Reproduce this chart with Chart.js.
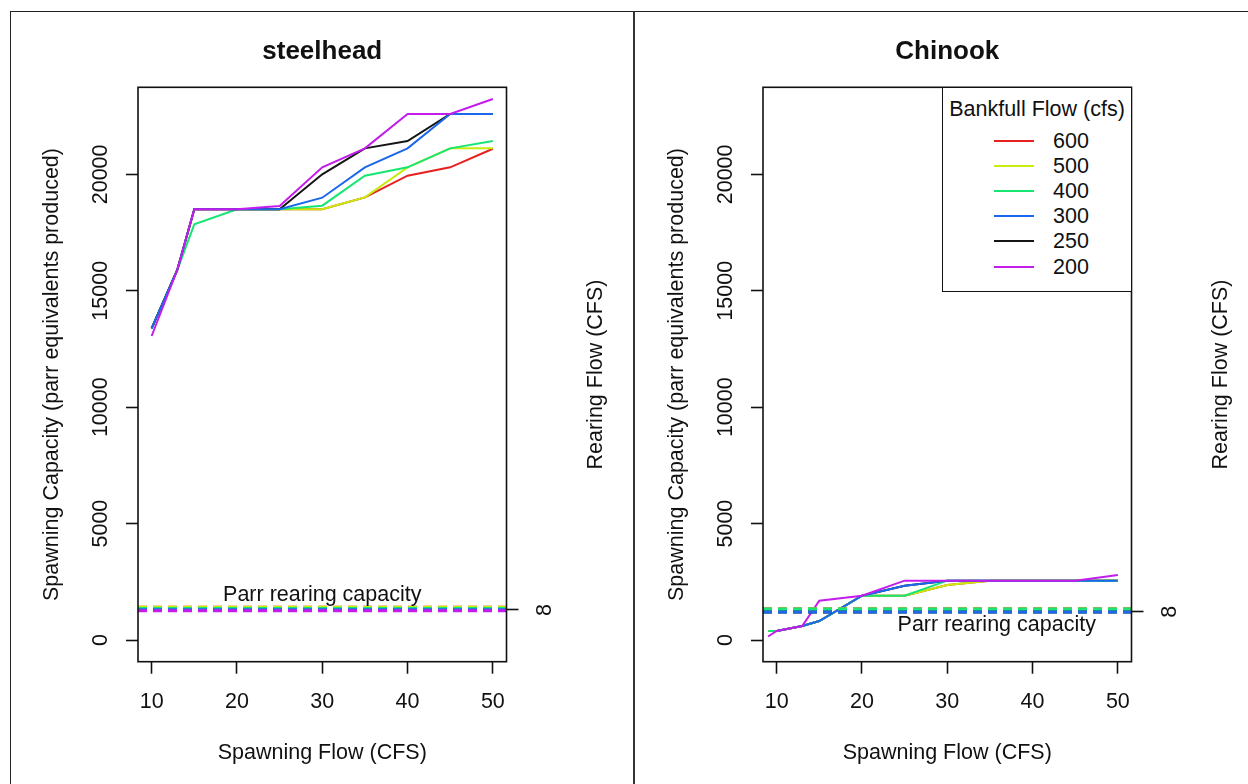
<!DOCTYPE html>
<html>
<head>
<meta charset="utf-8">
<title>Spawning capacity vs spawning flow</title>
<script src="https://cdn.jsdelivr.net/npm/chart.js@4.4.1/dist/chart.umd.min.js"></script>
<style>
  html, body { margin: 0; padding: 0; background: #fff; }
  body { width: 1248px; height: 784px; position: relative; overflow: hidden;
         font-family: "Liberation Sans", Arial, sans-serif; color: #111; }
  .frame { position: absolute; left: 10px; top: 11px; width: 1300px; height: 800px;
           border-top: 1.5px solid #222; border-left: 1.5px solid #222; }
  .divider { position: absolute; left: 633px; top: 11px; width: 2px; height: 800px; background: #333; }
  .panel { position: absolute; top: 0; }
  .legend { position: absolute; left: 942px; top: 87px; width: 190px; height: 205px; box-sizing: border-box;
            border: 1.6px solid #111; background: #fff; font-size: 21.5px; }
  .legend .ttl { position: absolute; left: 0; width: 100%; top: 8px; text-align: center; line-height: 26px; }
  .legend .row { position: absolute; left: 0; width: 100%; height: 26px; }
  .legend .sw { position: absolute; left: 51px; top: 12px; width: 40px; height: 2px; }
  .legend .lbl { position: absolute; left: 110px; top: 0; line-height: 26px; }
</style>
</head>
<body>
<div class="frame"></div>
<div class="divider"></div>
<canvas id="steelhead" class="panel" width="623" height="784" style="left:0"></canvas>
<canvas id="chinook" class="panel" width="623" height="784" style="left:625px"></canvas>
<div id="legend" class="legend"></div>

<script>
// spawning flow (cfs) sampled for each species
const steelheadFlow = [10, 13, 15, 20, 25, 30, 35, 40, 45, 50];
const chinookFlow = [9, 10, 13, 15, 20, 25, 30, 35, 40, 45, 50];

// bankfull flow classes (cfs), in legend order
const bankfullFlows = ['600', '500', '400', '300', '250', '200'];
const flowColors = ['#e8201e', '#c8ec0a', '#18e672', '#1c68ec', '#151515', '#c41cec'];

// steelhead spawning capacity (parr equivalents produced)
const steelhead600 = [13389, 15893, 18500, 18500, 18500, 18500, 19013, 19944, 20303, 21100];
const steelhead500 = [13389, 15893, 18500, 18500, 18500, 18500, 19013, 20303, 21119, 21119];
const steelhead400 = [13389, 15893, 17856, 18500, 18500, 18656, 19944, 20303, 21119, 21434];
const steelhead300 = [13389, 15893, 18500, 18500, 18500, 18999, 20303, 21119, 22594, 22594];
const steelhead250 = [13389, 15893, 18500, 18500, 18500, 20004, 21119, 21434, 22594, 22594];
const steelhead200 = [13058, 15893, 18500, 18500, 18643, 20303, 21119, 22594, 22594, 23239];

// Chinook spawning capacity (parr equivalents produced)
const chinook600 = [390, 390, 601, 816, 1904, 1904, 2362, 2549, 2549, 2549, 2549];
const chinook500 = [390, 390, 601, 816, 1904, 1904, 2362, 2549, 2549, 2549, 2549];
const chinook400 = [390, 390, 601, 816, 1904, 1904, 2549, 2549, 2549, 2549, 2549];
const chinook300 = [null, 390, 601, 816, 1904, 2334, 2549, 2549, 2549, 2549, 2549];
const chinook250 = [null, 390, 601, 816, 1904, 2334, 2549, 2549, 2549, 2549, 2549];
const chinook200 = [150, 390, 601, 1689, 1904, 2549, 2549, 2549, 2549, 2549, 2792];

// parr rearing capacity for each bankfull flow
const steelheadRearing = [1409, 1409, 1353, 1302, 1302, 1254];
const chinookRearing = [1330, 1330, 1330, 1200, 1200, 1330];

// axes
const flowRange = [8.4, 51.6];
const capacityRange = [-932, 23741];
const flowTicks = [10, 20, 30, 40, 50];
const capacityTicks = [0, 5000, 10000, 15000, 20000];
const rearTickLabel = '8';
const steelheadRearTick = 1289;
const chinookRearTick = 1216;

const INK = '#111';
const FAMILY = '"Liberation Sans", Arial, sans-serif';
const FONT_SIZE = 21.5;
const W = 623, H = 784;
const PLOT_LEFT = 138, PLOT_RIGHT = 506.5, PLOT_TOP = 87.3, PLOT_BOTTOM = 661.7;
const TICK_LEN = 12;

Chart.defaults.font.family = FAMILY;
Chart.defaults.color = INK;

// tick label widths, used to place the rotated labels
const meas = document.createElement('canvas').getContext('2d');
meas.font = FONT_SIZE + 'px ' + FAMILY;
const wideY = Math.max(...capacityTicks.map(v => meas.measureText(String(v)).width));
const wideR = meas.measureText(rearTickLabel).width;
const yPad = (PLOT_LEFT - TICK_LEN - 101) - wideY / 2;
const rPad = (545.5 - PLOT_RIGHT - TICK_LEN) - wideR / 2;

// plot box, right-axis title and the "Parr rearing capacity" note
const panelPlugin = {
  id: 'panelNotes',
  afterDatasetsDraw(chart, args, opts) {
    const {ctx, chartArea: a, scales} = chart;
    ctx.save();
    ctx.strokeStyle = INK;
    ctx.lineWidth = 1.6;
    ctx.strokeRect(a.left, a.top, a.right - a.left, a.bottom - a.top);
    ctx.fillStyle = INK;
    ctx.font = FONT_SIZE + 'px ' + FAMILY;
    ctx.textAlign = 'center';
    ctx.textBaseline = 'middle';
    ctx.fillText(opts.note, scales.x.getPixelForValue(opts.noteAt[0]), scales.y.getPixelForValue(opts.noteAt[1]));
    ctx.translate(596.5, (a.top + a.bottom) / 2);
    ctx.rotate(-Math.PI / 2);
    ctx.fillText(opts.rightTitle, 0, 0);
    ctx.restore();
  }
};

function buildChart(id, cfg) {
  const datasets = [];
  bankfullFlows.forEach((flow, i) => {
    datasets.push({
      label: flow + ' rearing',
      data: flowRange.map(x => ({x, y: cfg.rearing[i]})),
      borderColor: flowColors[i],
      borderWidth: 3,
      borderDash: [9, 6],
      pointRadius: 0,
      order: cfg.dashOrder.indexOf(flow)
    });
  });
  bankfullFlows.forEach((flow, i) => {
    datasets.push({
      label: flow,
      data: cfg.flow.map((x, k) => ({x, y: cfg.series[i][k]})),
      borderColor: flowColors[i],
      borderWidth: 2,
      pointRadius: 0,
      tension: 0,
      order: 10 + cfg.lineOrder.indexOf(flow)
    });
  });

  const tickFont = {size: FONT_SIZE, lineHeight: 1.2};
  const grid = {drawOnChartArea: false, tickLength: TICK_LEN, tickColor: INK, tickWidth: 1.6};

  return new Chart(document.getElementById(id), {
    type: 'line',
    data: {datasets},
    plugins: [panelPlugin],
    options: {
      responsive: false,
      animation: false,
      devicePixelRatio: 1,
      layout: {padding: 0},
      scales: {
        x: {
          type: 'linear', min: flowRange[0], max: flowRange[1],
          afterBuildTicks: s => { s.ticks = flowTicks.map(v => ({value: v})); },
          afterFit: s => { s.height = H - PLOT_BOTTOM; },
          grid, border: {display: false},
          ticks: {font: tickFont, color: INK, padding: 15, maxRotation: 0, autoSkip: false, callback: v => String(v)},
          title: {display: true, text: 'Spawning Flow (CFS)', font: tickFont, color: INK, padding: {top: 0, bottom: 18}}
        },
        y: {
          type: 'linear', position: 'left', min: capacityRange[0], max: capacityRange[1],
          afterBuildTicks: s => { s.ticks = capacityTicks.map(v => ({value: v})); },
          afterFit: s => { s.width = PLOT_LEFT; },
          grid, border: {display: false},
          ticks: {font: tickFont, color: INK, minRotation: 90, maxRotation: 90, crossAlign: 'center',
                  padding: yPad, autoSkip: false, callback: v => String(v)},
          title: {display: true, text: 'Spawning Capacity (parr equivalents produced)', font: tickFont, color: INK,
                  padding: {top: 39, bottom: 0}}
        },
        y2: {
          type: 'linear', position: 'right', min: capacityRange[0], max: capacityRange[1],
          afterBuildTicks: s => { s.ticks = [{value: cfg.rearTick}]; },
          afterFit: s => { s.width = W - PLOT_RIGHT; },
          grid, border: {display: false},
          ticks: {font: tickFont, color: INK, minRotation: 90, maxRotation: 90, crossAlign: 'center',
                  padding: rPad, autoSkip: false, callback: () => rearTickLabel}
        }
      },
      plugins: {
        legend: {display: false},
        tooltip: {enabled: false},
        title: {
          display: true, text: cfg.title, fullSize: false, color: INK,
          font: {size: 26, weight: 'bold', lineHeight: 1.2},
          padding: {top: 36.4, bottom: PLOT_TOP - 36.4 - 31.2}
        },
        panelNotes: {note: 'Parr rearing capacity', noteAt: cfg.noteAt, rightTitle: 'Rearing Flow (CFS)'}
      }
    }
  });
}

buildChart('steelhead', {
  title: 'steelhead',
  flow: steelheadFlow,
  series: [steelhead600, steelhead500, steelhead400, steelhead300, steelhead250, steelhead200],
  rearing: steelheadRearing,
  rearTick: steelheadRearTick,
  noteAt: [30, 1950],
  lineOrder: ['200', '300', '250', '400', '500', '600'],
  dashOrder: ['200', '300', '400', '500', '250', '600']
});

buildChart('chinook', {
  title: 'Chinook',
  flow: chinookFlow,
  series: [chinook600, chinook500, chinook400, chinook300, chinook250, chinook200],
  rearing: chinookRearing,
  rearTick: chinookRearTick,
  noteAt: [35.8, 636],
  lineOrder: ['200', '300', '400', '500', '250', '600'],
  dashOrder: ['300', '400', '250', '500', '600', '200']
});

// legend box for the Chinook panel
const legend = document.getElementById('legend');
const ttl = document.createElement('div');
ttl.className = 'ttl';
ttl.textContent = 'Bankfull Flow (cfs)';
legend.appendChild(ttl);
bankfullFlows.forEach((flow, i) => {
  const row = document.createElement('div');
  row.className = 'row';
  row.style.top = (40 + i * 25.1) + 'px';
  const sw = document.createElement('span');
  sw.className = 'sw';
  sw.style.background = flowColors[i];
  const lbl = document.createElement('span');
  lbl.className = 'lbl';
  lbl.textContent = flow;
  row.appendChild(sw);
  row.appendChild(lbl);
  legend.appendChild(row);
});
</script>
</body>
</html>
